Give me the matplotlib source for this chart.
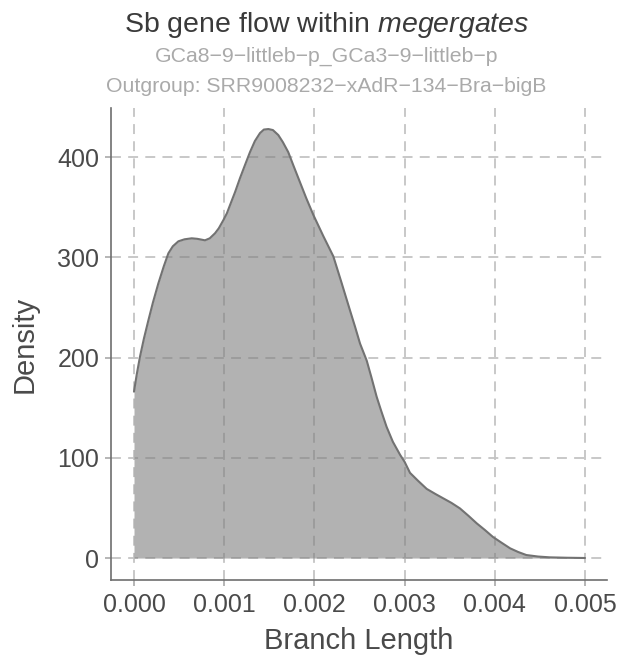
#!/usr/bin/env python3
"""Density of branch lengths for Sb gene flow within megergates."""

import matplotlib
matplotlib.use("Agg")
import matplotlib.pyplot as plt

# Density curve (branch length, density).
branch_length = [
    0.0, 0.00003, 0.0000665, 0.00011, 0.000159, 0.00021, 0.00027,
    0.00033, 0.000381, 0.00043, 0.000492, 0.00056, 0.00064, 0.0007,
    0.000787, 0.00084, 0.000898, 0.00094, 0.00099, 0.00103, 0.001064,
    0.00112, 0.001175, 0.00123, 0.001286, 0.00134, 0.001397, 0.00144,
    0.00149, 0.00154, 0.0016, 0.00165, 0.00171, 0.00177, 0.00184,
    0.00191, 0.00199, 0.0021, 0.00221, 0.0023, 0.002395, 0.00245,
    0.002506, 0.00258, 0.00263, 0.00269, 0.00274, 0.0028, 0.00287,
    0.00295, 0.003, 0.00306, 0.00315, 0.003245, 0.00334, 0.00343,
    0.00352, 0.003614, 0.00371, 0.0038, 0.00389, 0.00398, 0.00408,
    0.00417, 0.00426, 0.00435, 0.00448, 0.00461, 0.0048, 0.005,
]
density = [
    166, 183, 201, 219, 237, 255, 274,
    291, 304, 311, 316, 318, 319, 318.5,
    317, 319, 324, 329, 337, 344, 352,
    365, 379, 392, 405, 416, 424, 427.5,
    428, 427, 422, 415, 405, 391, 375,
    359, 342, 321, 301, 275, 247, 231,
    214, 197, 181, 161, 147, 131, 116,
    103, 96, 85, 77, 69, 64, 59.5,
    55, 49.5, 42, 34.6, 28, 21, 15,
    9.7, 6, 3, 1.5, 0.7, 0.3, 0.05,
]
x_ticks = [0.000, 0.001, 0.002, 0.003, 0.004, 0.005]
y_ticks = [0, 100, 200, 300, 400]

TITLE = r"Sb gene flow within $\it{megergates}$"
SUBTITLE_1 = "GCa8\u22129\u2212littleb\u2212p_GCa3\u22129\u2212littleb\u2212p"
SUBTITLE_2 = "Outgroup: SRR9008232\u2212xAdR\u2212134\u2212Bra\u2212bigB"

plt.rcParams["font.family"] = ["Liberation Sans", "DejaVu Sans"]
plt.rcParams["mathtext.fontset"] = "custom"
plt.rcParams["mathtext.rm"] = "Liberation Sans"
plt.rcParams["mathtext.it"] = "Liberation Sans:italic"

GRID = "#c4c4c4"
AXIS = "#6e6e6e"
TEXT = "#4a4a4a"

fig = plt.figure(figsize=(6.28, 6.59), dpi=100)
ax = fig.add_axes([111 / 628, 1 - 580 / 659, 496 / 628, 472 / 659])

ax.set_xlim(-0.000255, 0.005244)
ax.set_ylim(-21.9, 449)

# Dashed grid behind the translucent fill.
for xv in x_ticks:
    ax.axvline(xv, color=GRID, lw=1.3, ls=(0, (5.5, 4)), zorder=1)
for yv in y_ticks:
    ax.axhline(yv, color=GRID, lw=1.3, ls=(0, (5.5, 4)), zorder=1)

ax.fill_between(branch_length, density, 0, color="#7f7f7f", alpha=0.6,
                lw=0, zorder=2)
ax.plot(branch_length, density, color="#727272", lw=1.5, zorder=3,
        solid_capstyle="round", solid_joinstyle="round")

ax.set_xticks(x_ticks)
ax.set_xticklabels([f"{v:.3f}" for v in x_ticks])
ax.set_yticks(y_ticks)
ax.set_yticklabels([str(v) for v in y_ticks])

for side in ("top", "right"):
    ax.spines[side].set_visible(False)
for side in ("left", "bottom"):
    ax.spines[side].set_color(AXIS)
    ax.spines[side].set_linewidth(1.2)

ax.tick_params(axis="both", colors="#b0b0b0", width=1.3, length=4.5,
               labelsize=18, labelcolor=TEXT)
ax.tick_params(axis="x", pad=4.5)
ax.tick_params(axis="y", pad=4)

ax.set_xlabel("Branch Length", fontsize=21, color=TEXT)
ax.set_ylabel("Density", fontsize=21, color=TEXT)
ax.xaxis.set_label_coords(0.5, -0.10)
ax.yaxis.set_label_coords(-0.145, 0.5)

fig.text(0.52, 1 - 32 / 659, TITLE, fontsize=20.5, color="#3a3a3a",
         ha="center", va="baseline")
fig.text(0.52, 1 - 62 / 659, SUBTITLE_1, fontsize=15.3, color="#aaaaaa",
         ha="center", va="baseline")
fig.text(0.52, 1 - 92 / 659, SUBTITLE_2, fontsize=15.3, color="#aaaaaa",
         ha="center", va="baseline")

fig.savefig("out.png", dpi=100)
